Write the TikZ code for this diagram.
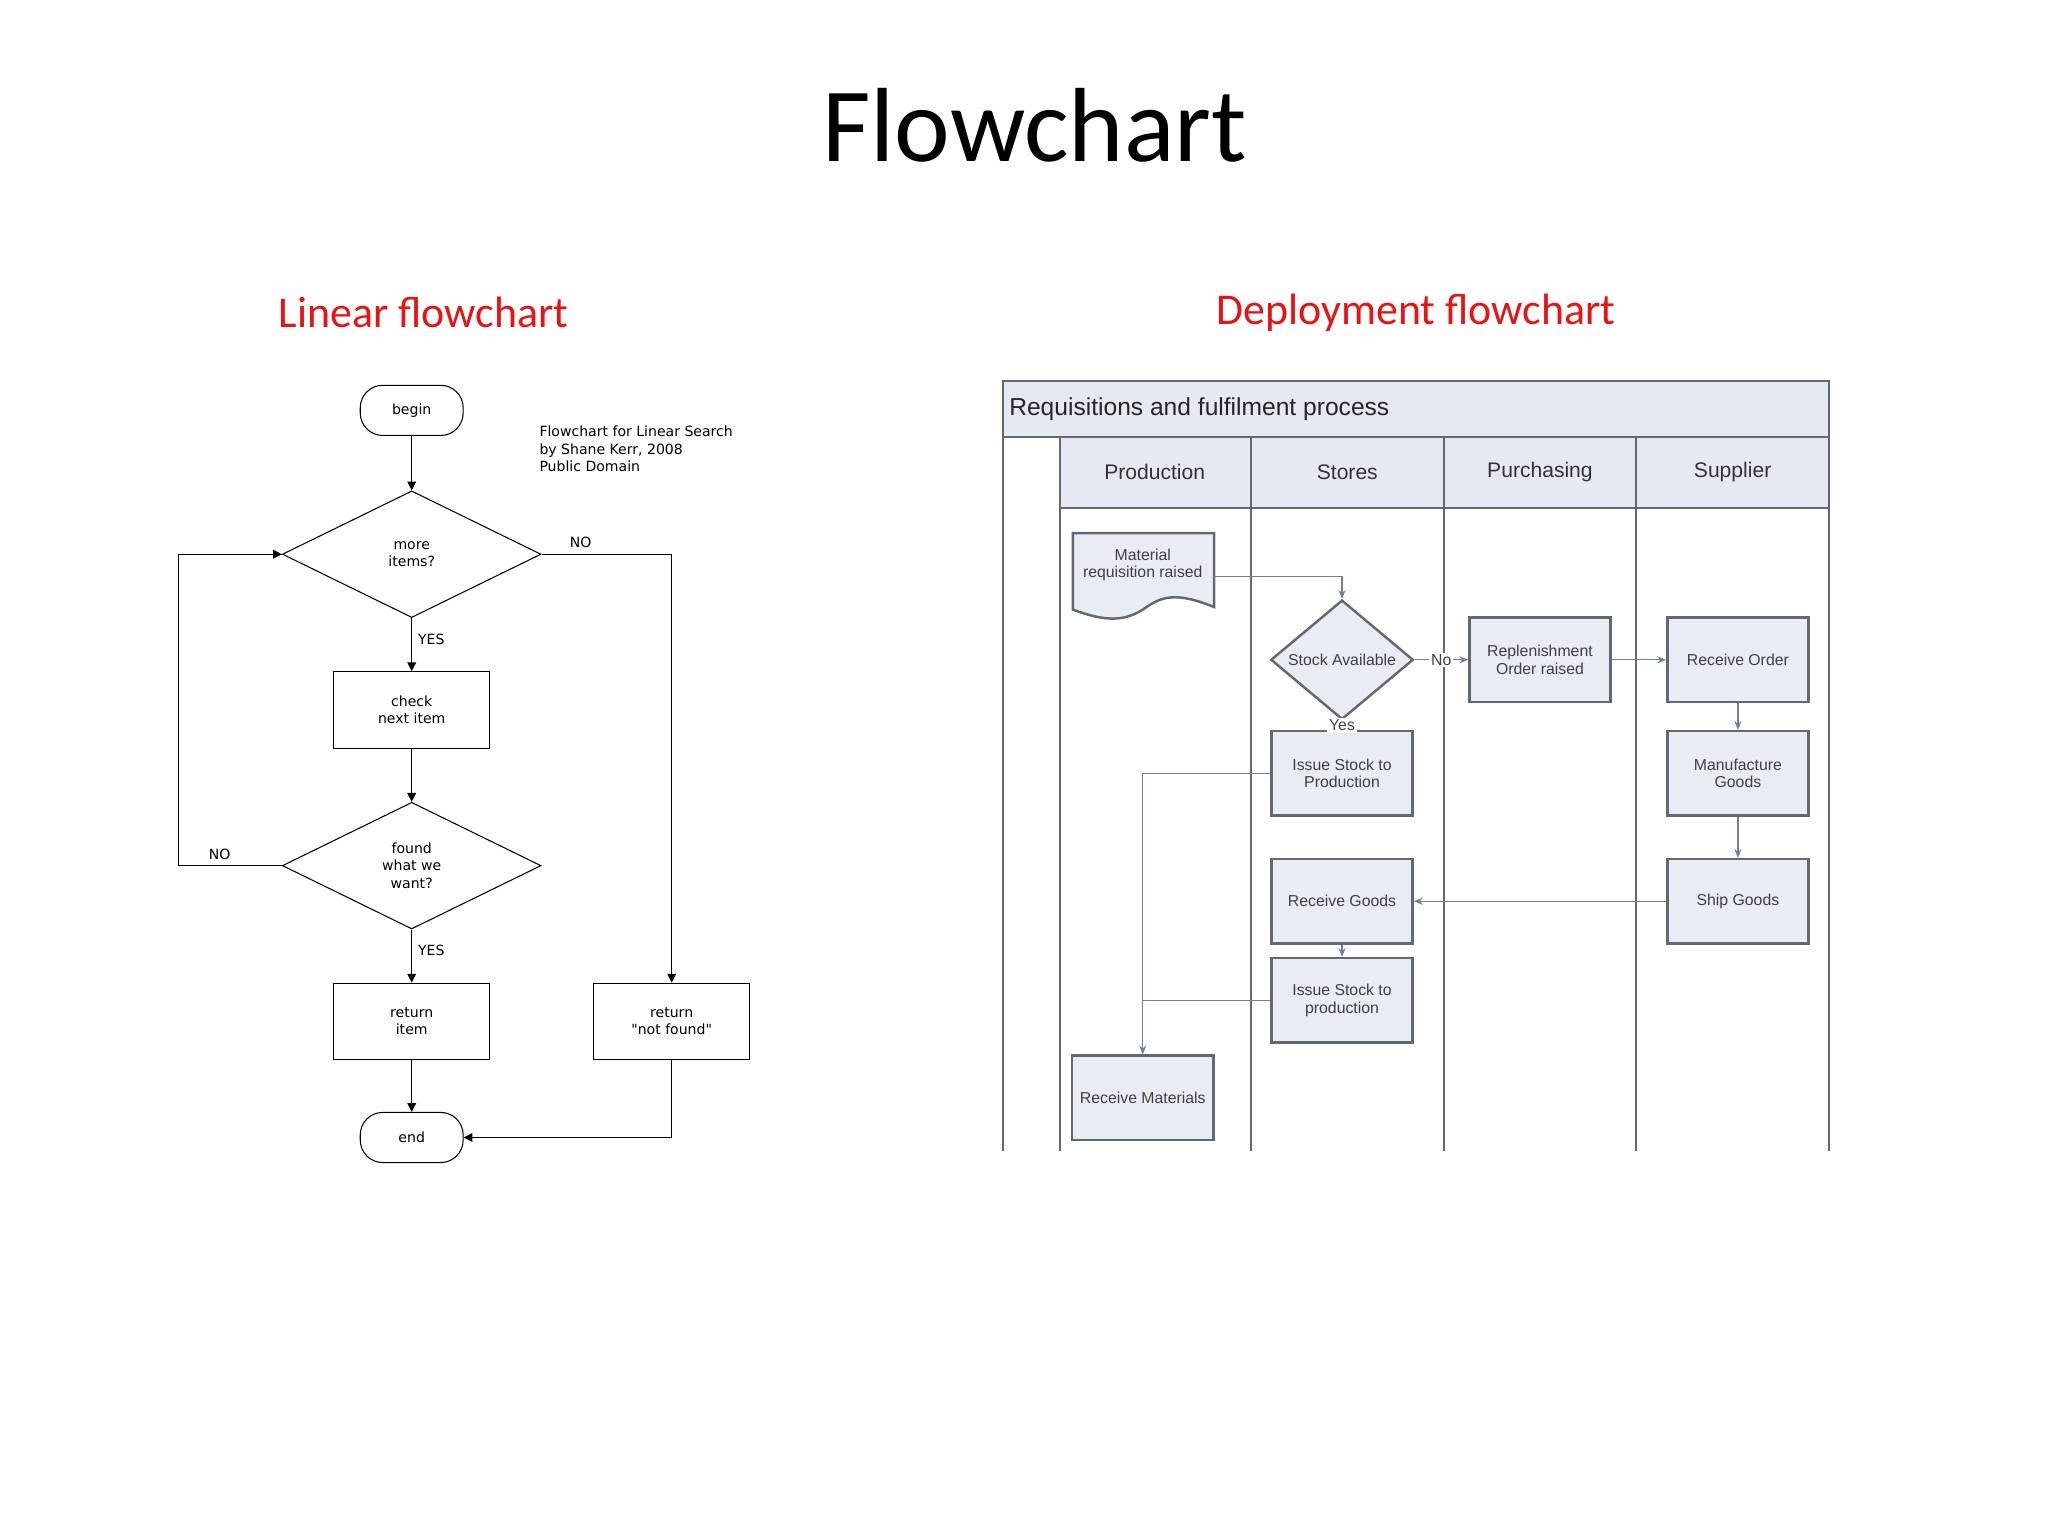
\documentclass[tikz,border=0pt]{standalone}
\usepackage{fontspec}
\setmainfont{Carlito}
\newfontfamily\dejavu{DejaVu Sans}
\newfontfamily\arial{Liberation Sans}
\usetikzlibrary{arrows.meta,shapes.geometric,positioning,calc}
\definecolor{titlered}{RGB}{230,20,20}
\definecolor{boxfill}{RGB}{233,236,243}
\definecolor{boxline}{RGB}{100,104,112}
\definecolor{flowblue}{RGB}{110,130,160}
\definecolor{bandfill}{RGB}{230,233,242}
\newcommand{\pxu}{0.0264cm}

\begin{document}
\begin{tikzpicture}[x=0.0264cm,y=-0.0264cm,>={Triangle[length=5pt,width=5pt]},
                    semithick]
    \tikzset{
      box/.style={
        rectangle,
        draw,
        font=\dejavu\fontsize{8}{10}\selectfont,
        align=center,
        minimum width=118*\pxu,
        minimum height=58*\pxu
      },
      term/.style={
        box,
        rounded corners=0.45cm,
        minimum width=78*\pxu,
        minimum height=38*\pxu
      },
      test/.style={
        diamond,
        draw,
        inner sep=0pt,
        font=\dejavu\fontsize{8}{10}\selectfont,
        align=center,
        minimum width=196*\pxu,
        minimum height=96*\pxu
      },
      tag/.style={
        font=\dejavu\fontsize{8}{10}\selectfont
      },
      task/.style={
        rectangle,
        draw=boxline,
        line width=1.4pt,
        fill=boxfill,
        text=black!75,
        font=\arial\fontsize{9}{10}\selectfont,
        align=center,
        minimum width=107*\pxu,
        minimum height=64*\pxu
      },
      query/.style={
        task,
        diamond,
        inner sep=0pt,
        minimum width=108*\pxu,
        minimum height=64*\pxu
      },
      flow/.style={
        draw=flowblue,
        thick,
        -{Stealth[length=5pt,width=4pt]}
      },
      lane/.style={
        draw=boxline,
        line width=1.2pt
      }
    }
    \useasboundingbox (0,0) rectangle (1552,1164);

    % Headings
    \node (title) at (784,95) {\fontsize{60}{60}\selectfont Flowchart};
    \node[text=titlered] (linhead) at (321,237) {\fontsize{25}{25}\selectfont Linear flowchart};
    \node[text=titlered] (dephead) at (1073,237) {\fontsize{25}{25}\selectfont Deployment flowchart};

    % Linear flowchart
    \node [term] (begin) at (312,311) {begin};
    \node [test] (more)  at (312,420) {more\\items?};
    \node [box]  (check) at (312,538) {check\\next item};
    \node [test] (found) at (312,656) {found\\what we\\want?};
    \node [box]  (item)  at (312,774) {return\\item};
    \node [box]  (none)  at (509,774) {return\\"not found"};
    \node [term] (end)   at (312,862) {end};
    \node [tag, anchor=north west, align=left] (credit) at (404,318)
        {Flowchart for Linear Search\\by Shane Kerr, 2008\\Public Domain};

    \draw[->] (begin) -- (more);
    \draw[->] (more) -- node[tag, right, pos=0.4] {YES} (check);
    \draw[->] (check) -- (found);
    \draw[->] (found) -- node[tag, right, pos=0.4] {YES} (item);
    \draw[->] (item) -- (end);
    \draw[->] (found.west) -- node[tag, above, pos=0.6] {NO} (135,656) |- (more.west);
    \draw[->] (more.east) -- node[tag, above, pos=0.3] {NO} (509,420) -- (none.north);
    \draw[->] (none.south) |- (end.east);

    % Deployment flowchart: swimlanes
    \fill[bandfill] (760,289) rectangle (1386,331);
    \fill[bandfill] (803,331) rectangle (1386,385);
    \draw[lane] (760,872) -- (760,289) -- (1386,289) -- (1386,872);
    \draw[lane] (760,331) -- (1386,331);
    \draw[lane] (803,385) -- (1386,385);
    \foreach \x in {803,948,1094,1240}
      \draw[lane] (\x,331) -- (\x,872);
    \node[anchor=west, font=\arial\fontsize{14}{14}\selectfont, text=black!85] (proc) at (760,310)
        {Requisitions and fulfilment process};
    \foreach \x/\name in {875/Production,1021/Stores,1167/Purchasing,1313/Supplier}
      \node[font=\arial\fontsize{12}{12}\selectfont, text=black!80] at (\x,358) {\name};

    % Deployment flowchart: tasks
    \draw[boxline, line width=1.4pt, fill=boxfill] (813,404) -- (920,404) -- (920,460)
        .. controls (890,448) and (880,452) .. (866,462)
        .. controls (850,472) and (835,470) .. (813,462) -- cycle;
    \node [font=\arial\fontsize{9}{10}\selectfont, text=black!75, align=center,
           minimum width=107*\pxu] (matreq) at (866,428) {Material\\requisition raised};
    \node [query] (stock)   at (1017,500) {Stock Available};
    \node [task]  (replen)  at (1167,500) {Replenishment\\Order raised};
    \node [task]  (record)  at (1317,500) {Receive Order};
    \node [task]  (issue)   at (1017,586) {Issue Stock to\\Production};
    \node [task]  (manuf)   at (1317,586) {Manufacture\\Goods};
    \node [task]  (recgood) at (1017,683) {Receive Goods};
    \node [task]  (ship)    at (1317,683) {Ship Goods};
    \node [task]  (issue2)  at (1017,758) {Issue Stock to\\production};
    \node [task]  (recmat)  at (866,832)  {Receive Materials};

    \draw[flow] (matreq.east |- 0,437) -| (stock.north);
    \draw[flow] (stock.east) -- node[fill=white, inner sep=1pt, font=\arial\fontsize{9}{9}\selectfont, text=black!75] {No} (replen.west);
    \draw[flow] (replen) -- (record);
    \draw[flow] (stock.south) -- node[fill=white, inner sep=1pt, font=\arial\fontsize{9}{9}\selectfont, text=black!75] {Yes} (issue.north);
    \draw[flow] (record) -- (manuf);
    \draw[flow] (manuf) -- (ship);
    \draw[flow] (ship) -- (recgood);
    \draw[flow] (recgood) -- (issue2);
    \draw[flow] (issue.west) -| (recmat.north);
    \draw[draw=flowblue, thick] (issue2.west) -- (866,758);
\end{tikzpicture}
\end{document}
